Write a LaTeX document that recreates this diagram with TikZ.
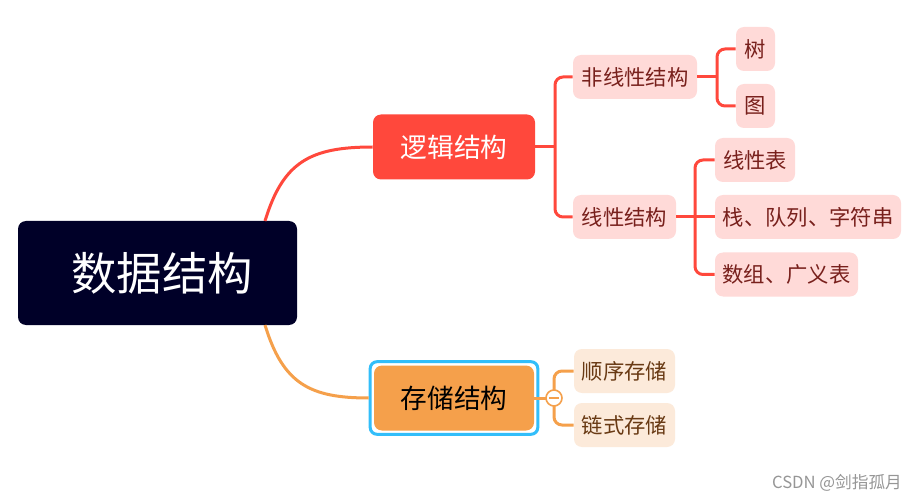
\documentclass[tikz,border=0pt]{standalone}
\usepackage{fontspec}
\setmainfont{Noto Sans CJK SC}
\usetikzlibrary{calc}
\definecolor{navy}{RGB}{0,0,40}
\definecolor{redmain}{RGB}{255,72,60}
\definecolor{pinkfill}{RGB}{255,218,216}
\definecolor{pinktext}{RGB}{120,32,28}
\definecolor{orangemain}{RGB}{245,160,75}
\definecolor{peachfill}{RGB}{252,234,218}
\definecolor{browntext}{RGB}{105,58,20}
\definecolor{selblue}{RGB}{50,190,250}
\definecolor{wmgray}{RGB}{150,150,150}
\begin{document}
\begin{tikzpicture}[x=0.75pt,y=-0.75pt,
  rootbox/.style={fill=navy, rounded corners=6pt, minimum width=209.25pt, minimum height=78pt, inner sep=0pt, text=white, font=\fontsize{34}{34}\selectfont},
  midbox/.style={rounded corners=6pt, minimum height=48.75pt, inner sep=0pt, font=\fontsize{20}{20}\selectfont},
  redleaf/.style={fill=pinkfill, text=pinktext, rounded corners=6pt, minimum height=33pt, inner sep=0pt, font=\fontsize{16}{16}\selectfont},
  orleaf/.style={fill=peachfill, text=browntext, rounded corners=6pt, minimum height=33pt, inner sep=0pt, font=\fontsize{16}{16}\selectfont},
  redline/.style={draw=redmain, line width=2.25pt, rounded corners=6pt},
  orline/.style={draw=orangemain, line width=2.25pt, rounded corners=6pt},
  selbox/.style={draw=selblue, line width=2.25pt, rounded corners=5pt}
]
\useasboundingbox (0,0) rectangle (917,502);
\fill[white] (0,0) rectangle (917,502);

% nodes
\node[rootbox] (root) at (157.5,273) {\hspace*{7pt}数据结构};
\node[midbox, fill=redmain, text=white, minimum width=121.5pt] (logic) at (454,147) {逻辑结构};
\node[midbox, fill=orangemain, text=black, minimum width=120pt] (store) at (454,398) {存储结构};

\node[redleaf, minimum width=93pt] (nonlin) at (635,77) {非线性结构};
\node[redleaf, minimum width=77.25pt] (lin) at (624.5,217) {线性结构};
\node[redleaf, minimum width=29.25pt] (tree) at (755.5,49) {树};
\node[redleaf, minimum width=29.25pt] (graph) at (755.5,106) {图};
\node[redleaf, minimum width=60pt] (ltab) at (755,160) {线性表};
\node[redleaf, minimum width=139.5pt] (stack) at (808,217) {栈、队列、字符串};
\node[redleaf, minimum width=107.25pt] (arr) at (786.5,274.5) {数组、广义表};

\node[orleaf, minimum width=75.75pt] (seq) at (624.5,371) {顺序存储};
\node[orleaf, minimum width=75.75pt] (chain) at (624.5,425) {链式存储};

% selection border
\draw[selbox] ($(store.north west)+(-3.5,-3.5)$) rectangle ($(store.south east)+(3.5,3.5)$);

% root connectors
\coordinate (rtop) at (265,221);
\coordinate (rbot) at (265,325);
\draw[draw=redmain, line width=2.25pt] (rtop) .. controls (283,162) and (310,147) .. (logic.west);
\draw[draw=orangemain, line width=2.25pt] (rbot) .. controls (283,384) and (310,398) .. ($(store.west)+(-5,0)$);

% logic brackets
\coordinate (j1) at (555,147);
\draw[redline] (logic.east) -- (j1);
\draw[redline] (nonlin.west) -| (j1) |- (lin.west);

\coordinate (j2) at (717,77);
\draw[redline] (nonlin.east) -- (j2);
\draw[redline] (tree.west) -| (j2) |- (graph.west);

\coordinate (j3) at (695,217);
\draw[redline] (lin.east) -- (stack.west);
\draw[redline] (ltab.west) -| (j3) |- (arr.west);

% storage bracket
\coordinate (j4) at (554,398);
\draw[orline] (store.east) -- (j4);
\draw[orline] (seq.west) -| (j4) |- (chain.west);
\node[circle, draw=orangemain, fill=white, line width=1.2pt, minimum size=12pt, inner sep=0pt] (col) at (j4) {};
\draw[orangemain, line width=1pt] ($(col.center)+(-5,0)$) -- ($(col.center)+(5,0)$);

% watermark
\node[text=wmgray, font=\fontsize{12.5}{12.5}\selectfont, inner sep=0pt] (wm) at (837,483) {CSDN @剑指孤月};
\end{tikzpicture}
\end{document}
